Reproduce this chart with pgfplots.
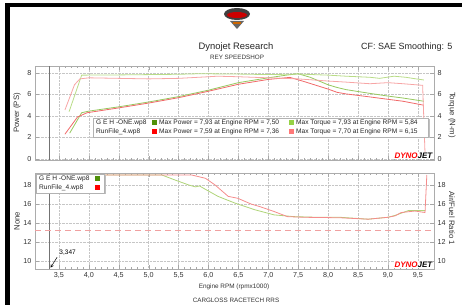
\documentclass[border=0pt]{standalone}
\usepackage{pgfplots}
\pgfplotsset{compat=1.18}
\usepackage{fontspec}
\setmainfont{Liberation Sans}
\definecolor{gpow}{RGB}{150,200,95}
\definecolor{gtrq}{RGB}{185,220,135}
\definecolor{rpow}{RGB}{240,105,105}
\definecolor{rtrq}{RGB}{247,165,165}
\definecolor{gafr}{RGB}{175,212,120}
\definecolor{rafr}{RGB}{245,140,140}
\definecolor{sqgA}{RGB}{80,145,10}
\definecolor{sqgB}{RGB}{150,210,70}
\definecolor{sqrA}{RGB}{255,0,0}
\definecolor{sqrB}{RGB}{255,120,120}
\definecolor{dashcol}{RGB}{240,160,160}
\pgfplotsset{
  common/.style={
    scale only axis, width=399pt,
    xmin=3.10, xmax=9.77,
    xtick={3.5,4,4.5,5,5.5,6,6.5,7,7.5,8,8.5,9,9.5},
    minor x tick num=4,
    grid=major, grid style={densely dotted, gray!45},
    axis line style={gray!65, line width=0.8pt},
    tick style={gray!70}, tick align=inside,
    major tick length=4pt, minor tick length=2pt,
    tick label style={font=\fontsize{7.2}{8}\selectfont, text=black!80},
    /pgf/number format/assume math mode=true,
    clip=true,
  },
}
\begin{document}
\begin{tikzpicture}[x=1pt,y=1pt]
\path[use as bounding box] (0,0) rectangle (464,305);
% frame
\fill[black] (5,0) rectangle (9.5,302);
\fill[black] (5,297.5) rectangle (462,302);
% logo
\fill[black!75] (237,291) ellipse (13 and 6);
\fill[red!80!black] (237,290) ellipse (10 and 3);
\fill[black!60] (230,284) -- (244,284) -- (237,276) -- cycle;
\fill[orange!80!black] (233,281) rectangle (241,283);
% titles
\node[font=\fontsize{9.4}{10}\selectfont, text=black!85] at (236,258) {Dynojet Research};
\node[font=\fontsize{6.3}{7}\selectfont, text=black!80] at (237,248) {REY SPEEDSHOP};
\node[font=\fontsize{9.0}{10}\selectfont, text=black!85, anchor=east] at (456,258) {CF: SAE Smoothing: 5};

% ---------------- top panel ----------------
\begin{axis}[common, at={(35pt,145pt)}, anchor=south west, height=94pt,
  ymin=-0.1, ymax=8.65, ytick={0,2,4,6,8}, xticklabels={}]
\addplot[gray!90!black, line width=1.1pt] coordinates {(3.347,-0.1) (3.347,8.65)};
\addplot[gpow, line width=0.8pt] coordinates {(3.68,2.4)(3.88,4.3)(4.0,4.45)(4.5,4.85)(5.0,5.3)(5.5,5.8)(6.0,6.4)(6.5,7.1)(7.0,7.55)(7.3,7.8)(7.5,7.93)(7.7,7.6)(8.0,6.9)(8.15,6.65)(8.3,6.45)(8.7,6.1)(9.0,5.85)(9.25,5.67)(9.6,5.37)};
\addplot[rpow, line width=0.8pt] coordinates {(3.6,2.3)(3.81,3.9)(3.97,4.3)(4.5,4.75)(5.0,5.2)(5.5,5.7)(6.0,6.3)(6.5,6.95)(7.0,7.4)(7.36,7.59)(7.6,7.2)(8.0,6.5)(8.15,6.2)(8.3,6.05)(8.7,5.77)(9.0,5.55)(9.25,5.37)(9.6,5.0)};
\end{axis}
\begin{axis}[common, at={(35pt,145pt)}, anchor=south west, height=94pt,
  ymin=-0.1, ymax=8.65, ytick={0,2,4,6,8}, axis y line*=right, axis x line=none, grid=none]
\addplot[gtrq, line width=0.8pt] coordinates {(3.67,4.4)(3.88,7.8)(4.5,7.82)(5.0,7.85)(5.5,7.88)(5.84,7.93)(6.5,7.9)(7.0,7.85)(7.5,7.9)(8.0,7.8)(8.3,7.7)(8.7,7.6)(8.86,7.5)(9.1,7.7)(9.3,7.6)(9.47,7.45)(9.6,7.35)};
\addplot[rtrq, line width=0.8pt] coordinates {(3.6,4.55)(3.76,6.9)(3.85,7.45)(4.0,7.55)(4.5,7.5)(5.0,7.45)(5.5,7.5)(6.0,7.65)(6.15,7.7)(6.5,7.65)(7.0,7.55)(7.5,7.45)(8.0,7.25)(8.3,7.15)(8.7,7.0)(9.0,7.1)(9.25,7.0)(9.58,6.85)(9.62,0.5)(9.66,0)};
\end{axis}

% ---------------- bottom panel ----------------
\begin{axis}[common, at={(35pt,36pt)}, anchor=south west, height=96pt,
  ymin=9.16, ymax=19.26, ytick={10,12,14,16,18},
  xticklabel style={/pgf/number format/.cd, use comma, fixed, fixed zerofill, precision=1}]
\addplot[gray!90!black, line width=1.1pt] coordinates {(3.347,9.16) (3.347,19.26)};
\addplot[dashcol, line width=1.3pt, dash pattern=on 6pt off 4pt] coordinates {(3.10,13.2) (9.77,13.2)};
\addplot[gafr, line width=0.8pt] coordinates {(3.68,19.05)(5.22,19.05)(5.45,18.5)(5.67,18.0)(5.78,17.8)(5.85,17.9)(5.96,17.5)(6.16,16.8)(6.44,16.1)(6.77,15.4)(7.1,14.85)(7.43,14.67)(7.81,14.6)(8.2,14.6)(8.67,14.4)(9.0,14.6)(9.12,14.8)(9.34,15.3)(9.62,15.3)};
\addplot[rafr, line width=0.8pt] coordinates {(3.6,19.05)(5.72,19.05)(5.95,18.7)(6.11,18.0)(6.33,16.8)(6.49,16.6)(6.71,16.0)(6.87,15.7)(7.1,15.2)(7.32,14.67)(7.6,14.6)(8.2,14.55)(8.67,14.4)(9.0,14.6)(9.12,14.75)(9.22,15.1)(9.45,15.26)(9.62,15.1)(9.65,19.05)};
\node[font=\fontsize{6.5}{7}\selectfont, anchor=south west] at (axis cs:3.45,10.2) {3,347};
\draw[-stealth, black, line width=0.5pt] (axis cs:3.47,10.4) -- (axis cs:3.36,9.3);
\end{axis}
\begin{axis}[common, at={(35pt,36pt)}, anchor=south west, height=96pt,
  ymin=9.16, ymax=19.26, ytick={10,12,14,16,18}, axis y line*=right, axis x line=none, grid=none]
\addplot[draw=none] coordinates {(5,12)};
\end{axis}

% axis labels
\node[rotate=90, font=\fontsize{7.8}{8}\selectfont, text=black!80] at (17,192) {Power (PS)};
\node[rotate=90, font=\fontsize{7.8}{8}\selectfont, text=black!80] at (17,84) {None};
\node[rotate=-90, font=\fontsize{7.8}{8}\selectfont, text=black!80] at (452,190) {Torque (N-m)};
\node[rotate=-90, font=\fontsize{7.8}{8}\selectfont, text=black!80] at (452,87) {Air/Fuel Ratio 1};
\node[font=\fontsize{6.4}{7}\selectfont, text=black!80] at (234,18) {Engine RPM (rpmx1000)};
\node[font=\fontsize{6.3}{7}\selectfont, text=black!80] at (236,5) {CARGLOSS RACETECH RRS};

% top legend
\fill[gray!50] (95,166.5) rectangle (430,185.5);
\filldraw[fill=white, draw=gray!60, line width=0.6pt] (93,168) rectangle (428,187);
\begin{scope}[every node/.style={font=\fontsize{6.6}{7}\selectfont, text=black!85, anchor=west, inner sep=0pt}]
\node at (96,182) {G E H -ONE.wp8};
\fill[sqgA] (152,180) rectangle (156.5,184.5);
\node at (159,182) {Max Power = 7,93 at Engine RPM = 7,50};
\fill[sqgB] (289,180) rectangle (293.5,184.5);
\node at (296,182) {Max Torque = 7,93 at Engine RPM = 5,84};
\node at (96,173) {RunFile\_4.wp8};
\fill[sqrA] (152,171) rectangle (156.5,175.5);
\node at (159,173) {Max Power = 7,59 at Engine RPM = 7,36};
\fill[sqrB] (289,171) rectangle (293.5,175.5);
\node at (296,173) {Max Torque = 7,70 at Engine RPM = 6,15};
\end{scope}

% bottom legend
\fill[gray!50] (38,110.5) rectangle (106,129.5);
\filldraw[fill=white, draw=gray!60, line width=0.6pt] (36,112) rectangle (104,131);
\begin{scope}[every node/.style={font=\fontsize{6.6}{7}\selectfont, text=black!85, anchor=west, inner sep=0pt}]
\node at (39,126) {G E H -ONE.wp8};
\fill[sqgA] (95,124) rectangle (99.5,128.5);
\node at (39,117) {RunFile\_4.wp8};
\fill[sqrA] (95,115) rectangle (99.5,119.5);
\end{scope}

% dynojet logos
\node[anchor=south east, inner sep=0.5pt, fill=white, font=\fontsize{8}{8}\selectfont\bfseries\itshape] at (433,146) {\textcolor{red}{DYNO}\textcolor{black}{JET}};
\node[anchor=south east, inner sep=0.5pt, fill=white, font=\fontsize{8}{8}\selectfont\bfseries\itshape] at (433,37) {\textcolor{red}{DYNO}\textcolor{black}{JET}};
\end{tikzpicture}
\end{document}
